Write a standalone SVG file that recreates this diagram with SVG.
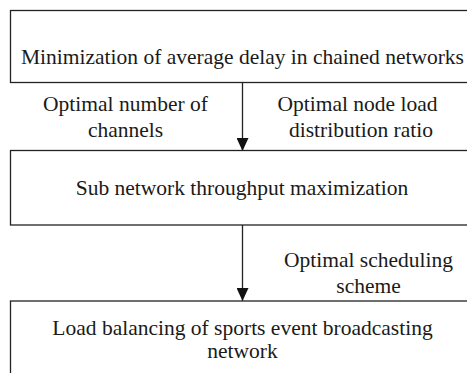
<svg xmlns="http://www.w3.org/2000/svg" width="467" height="373" viewBox="0 0 467 373">
<style>
.box{fill:#fff;stroke:#222;stroke-width:1.3}
.t{font-family:"Liberation Serif","Times New Roman",serif;font-size:21.5px;fill:#1a1a1a;text-anchor:middle}
.c{stroke:#222;stroke-width:1.3;fill:none}
</style>
<defs>
<marker id="ah" viewBox="0 0 13 12" refX="13" refY="6" markerWidth="13" markerHeight="12" markerUnits="userSpaceOnUse" orient="auto">
<path d="M0,0 L13,6 L0,12 Z" fill="#111"/>
</marker>
</defs>
<rect width="467" height="373" fill="#fff"/>
<g id="connectors">
<line class="c" x1="242.5" y1="83" x2="242.5" y2="151" marker-end="url(#ah)"/>
<line class="c" x1="242.5" y1="225" x2="242.5" y2="301" marker-end="url(#ah)"/>
<text class="t" x="125.5" y="111">Optimal number of</text>
<text class="t" x="125.5" y="136.5">channels</text>
<text class="t" x="357.5" y="111">Optimal node load</text>
<text class="t" x="361" y="136.5">distribution ratio</text>
<text class="t" x="368.5" y="267">Optimal scheduling</text>
<text class="t" x="368.5" y="292.5">scheme</text>
</g>
<g id="node1">
<rect class="box" x="10.5" y="10.5" width="470" height="72"/>
<text class="t" x="242.5" y="64">Minimization of average delay in chained networks</text>
</g>
<g id="node2">
<rect class="box" x="10.5" y="150.5" width="470" height="74.5"/>
<text class="t" x="242" y="195">Sub network throughput maximization</text>
</g>
<g id="node3">
<rect class="box" x="10.5" y="301" width="470" height="90"/>
<text class="t" x="242.5" y="334.5">Load balancing of sports event broadcasting</text>
<text class="t" x="242.5" y="358">network</text>
</g>
</svg>
